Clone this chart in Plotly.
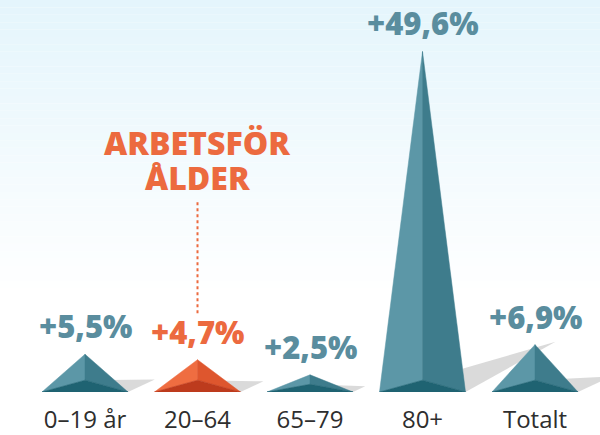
import plotly.graph_objects as go

# ---- data ----
categories = ["0–19 år", "20–64", "65–79", "80+", "Totalt"]
values = [5.5, 4.7, 2.5, 49.6, 6.9]
value_labels = ["+5,5%", "+4,7%", "+2,5%", "+49,6%", "+6,9%"]
highlight = [False, True, False, False, False]
annotation_lines = ["ARBETSFÖR", "ÅLDER"]

# ---- style / geometry ----
W, H = 600, 435
M_B = 37
PX_X = 112.5          # px per category
PX_Y = 6.97           # px per percent
X0 = 85               # px of first category
plot_h = H - M_B
x_range = [-X0 / PX_X, (W - X0) / PX_X]
y_range = [0, plot_h / PX_Y]

HW = 43 / PX_X        # half base width in x units

TEAL = dict(left="#5c97a7", right="#3e7c8c", bottom="#1f6372", text="#5a8d9e")
ORANGE = dict(left="#ef6d41", right="#de562e", bottom="#bd3b1d", text="#ec6a3f")
SHADOW = "rgba(205,205,205,0.75)"

fig = go.Figure()

# background gradient (light blue -> white)
top_rgb = (228, 245, 252)
n_bands = 40
grad_bottom = 1 - 300 / plot_h
for k in range(n_bands):
    t = k / n_bands
    y0 = grad_bottom + (1 - grad_bottom) * t
    y1 = grad_bottom + (1 - grad_bottom) * (k + 1) / n_bands
    f = (t + 0.5 / n_bands)
    c = tuple(round(255 + (tc - 255) * f) for tc in top_rgb)
    fig.add_shape(type="rect", xref="paper", yref="paper", x0=0, x1=1, y0=y0, y1=y1,
                  fillcolor=f"rgb{c}", line_width=0, layer="below")

def ridge_of(v):
    return min(12 / PX_Y, 0.45 * v)

# shadows first
for i, v in enumerate(values):
    h_px = v * PX_Y
    a = min(0.7 * h_px, 90) / PX_X
    b = min(0.33 * h_px, 51) / PX_Y
    r = ridge_of(v)
    xs = [i, i + HW + a, i + HW, i]
    ys = [r, b, 0, r]
    fig.add_trace(go.Scatter(x=xs, y=ys, fill="toself", fillcolor=SHADOW, mode="lines",
                             line=dict(width=0), hoverinfo="skip", showlegend=False))

# pyramids
for i, v in enumerate(values):
    col = ORANGE if highlight[i] else TEAL
    r = ridge_of(v)
    faces = [
        ([i - HW, i, i, i - HW], [0, v, r, 0], col["left"]),
        ([i, i, i + HW, i], [r, v, 0, r], col["right"]),
        ([i - HW, i, i + HW, i - HW], [0, r, 0, 0], col["bottom"]),
    ]
    for xs, ys, fc in faces:
        fig.add_trace(go.Scatter(x=xs, y=ys, fill="toself", fillcolor=fc, mode="lines",
                                 line=dict(width=0.5, color=fc), hoverinfo="skip",
                                 showlegend=False))

# value labels
for i, (v, lab) in enumerate(zip(values, value_labels)):
    col = ORANGE if highlight[i] else TEAL
    fig.add_annotation(x=i, y=v, xref="x", yref="y", text=lab, showarrow=False,
                       yanchor="bottom", yshift=5,
                       font=dict(family="Open Sans", size=31, color=col["text"], weight=800))

# "ARBETSFÖR ÅLDER" callout above the highlighted category
hi = highlight.index(True)
line_centers = [(plot_h - 145) / PX_Y, (plot_h - 180) / PX_Y]
for txt, yy in zip(annotation_lines, line_centers):
    fig.add_annotation(x=hi, y=yy, xref="x", yref="y", text=txt, showarrow=False,
                       yanchor="middle",
                       font=dict(family="Open Sans", size=32, color=ORANGE["text"], weight=800))
fig.add_shape(type="line", xref="x", yref="y", x0=hi, x1=hi,
              y0=(plot_h - 318) / PX_Y, y1=(plot_h - 205) / PX_Y,
              line=dict(color=ORANGE["text"], width=2, dash="dot"))

fig.update_layout(
    width=W, height=H,
    margin=dict(l=0, r=0, t=0, b=M_B),
    paper_bgcolor="white", plot_bgcolor="rgba(0,0,0,0)",
    showlegend=False,
    xaxis=dict(range=x_range, tickvals=list(range(len(categories))), ticktext=categories,
               showgrid=False, zeroline=False, showline=False, ticks="",
               tickfont=dict(family="Open Sans", size=24, color="#2e2e2e"),
               ticklabelstandoff=11, fixedrange=True),
    yaxis=dict(range=y_range, visible=False, fixedrange=True),
)

fig.write_html("out.html", config={"displayModeBar": False},
               post_script="document.body.style.margin='0';document.body.style.overflow='hidden';")
